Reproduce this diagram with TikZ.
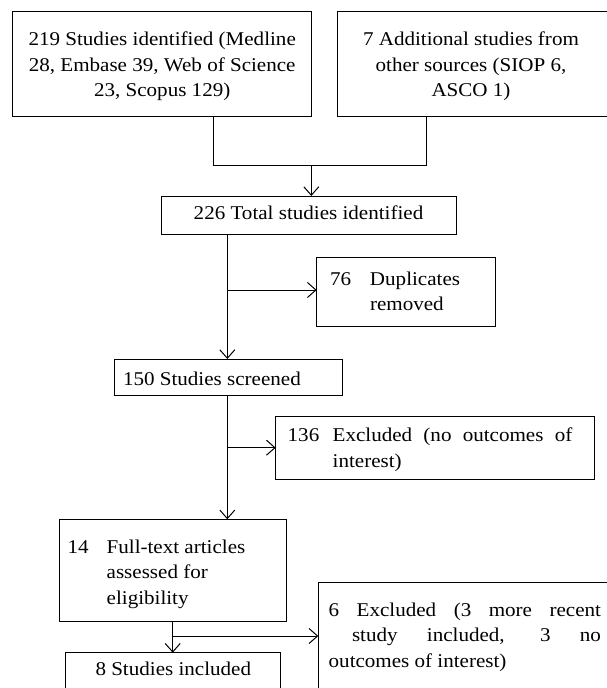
\documentclass[tikz,border=0pt]{standalone}
\usepackage{fontspec}
\setmainfont{Liberation Serif}[FakeStretch=1.08]
\usetikzlibrary{arrows.meta}
\begin{document}
\begin{tikzpicture}[x=1pt,y=-1pt,
  box/.style={draw, line width=1pt, inner sep=0pt, outer sep=0pt},
  txt/.style={inner sep=0pt, outer sep=0pt, anchor=base west, font=\fontsize{19.5}{25.5}\selectfont},
  ctxt/.style={inner sep=0pt, outer sep=0pt, anchor=base, font=\fontsize{19.5}{25.5}\selectfont},
  link/.style={line width=1pt},
  arr/.style={line width=1pt, -{Straight Barb[length=8.5pt,width=15pt,line width=1pt]}}]
\useasboundingbox (0,0) rectangle (607,688);
% boxes
\node[box, minimum width=299pt, minimum height=105.7pt] (b1) at (162.2,63.85) {};
\node[box, minimum width=271.7pt, minimum height=105.7pt] (b2) at (473.15,63.85) {};
\node[box, minimum width=295.7pt, minimum height=38pt] (b3) at (308.85,215) {};
\node[box, minimum width=178.3pt, minimum height=69pt] (b4) at (405.85,291.5) {};
\node[box, minimum width=228.3pt, minimum height=36pt] (b5) at (228.15,377) {};
\node[box, minimum width=318.6pt, minimum height=62.6pt] (b6) at (435,448) {};
\node[box, minimum width=227.4pt, minimum height=102.4pt] (b7) at (173,570.5) {};
\node[box, minimum width=215pt, minimum height=47.3pt] (b8) at (173.2,676.35) {};
\node[box, minimum width=293.7pt, minimum height=117.3pt] (b9) at (465.15,641.35) {};
% texts
\node[ctxt] (t1) at (162.2,45.7) {\parbox[t]{290pt}{\centering 219 Studies identified (Medline\\28, Embase 39, Web of Science\\23, Scopus 129)}};
\node[ctxt] (t2) at (471,45.7) {\parbox[t]{260pt}{\centering 7 Additional studies from\\other sources (SIOP 6,\\ASCO 1)}};
\node[ctxt] (t3) at (308.5,219.3) {226 Total studies identified};
\node[txt] (t4) at (330,285) {\parbox[t]{160pt}{\raggedright\hangindent=40pt\hangafter=1 \makebox[40pt][l]{76}Duplicates\newline removed}};
\node[txt] (t5) at (123,385) {150 Studies screened};
\node[txt] (t6) at (287.7,441.7) {\parbox[t]{284.6pt}{\hangindent=45pt\hangafter=1 \makebox[45pt][l]{136}Excluded (no outcomes of\linebreak interest)}};
\node[txt] (t7) at (67.7,553) {\parbox[t]{215pt}{\raggedright\hangindent=39pt\hangafter=1 \makebox[39pt][l]{14}Full-text articles\newline assessed for\newline eligibility}};
\node[ctxt] (t8) at (173.3,675) {8 Studies included};
\node[txt] (t9) at (328.7,616) {\parbox[t]{272.3pt}{\parshape 3 0pt 272.3pt 23.3pt 249pt 0pt 272.3pt\relax 6 Excluded (3 more recent\linebreak study included, 3 no\linebreak outcomes of interest)}};
% connectors
\coordinate (jl) at (213.3,165.7);
\coordinate (jr) at (426,165.7);
\coordinate (jm) at (311.3,165.7);
\draw[link] (b1.south -| jl) -- (jl) -- (jr) -- (b2.south -| jr);
\draw[arr] (jm) -- (b3.north -| jm);
\coordinate (k1) at (227.3,290);
\draw[arr] (b3.south -| k1) -- (b5.north -| k1);
\draw[arr] (k1) -- (b4.west |- k1);
\coordinate (k2) at (227.3,447.7);
\draw[arr] (b5.south -| k2) -- (b7.north -| k2);
\draw[arr] (k2) -- (b6.west |- k2);
\coordinate (k3) at (172.7,636);
\draw[arr] (b7.south -| k3) -- (b8.north -| k3);
\draw[arr] (k3) -- (b9.west |- k3);
\end{tikzpicture}
\end{document}
